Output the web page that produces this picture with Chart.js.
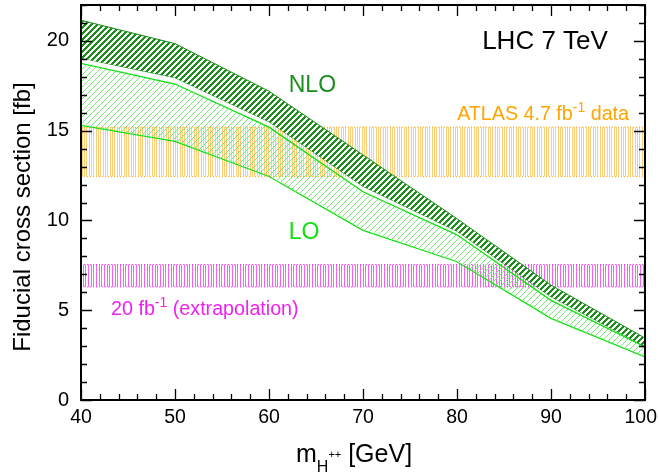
<!DOCTYPE html>
<html>
<head>
<meta charset="utf-8">
<title>Fiducial cross section</title>
<script src="https://cdn.jsdelivr.net/npm/chart.js@4.4.0/dist/chart.umd.min.js"></script>
<style>
  html, body { margin: 0; padding: 0; background: #fff; }
  #wrap { width: 659px; height: 475px; }
</style>
</head>
<body>
<div id="wrap"><canvas id="xsecChart" width="659" height="475"></canvas></div>
<script>
// Data (cross section in fb vs mass in GeV)
const masses = [40, 50, 60, 70, 80, 90, 100];
const nloUpper = [21.15, 19.85, 17.2, 13.65, 10.1, 6.4, 3.45];
const nloLower = [19.05, 17.95, 15.5, 11.9, 9.4, 5.75, 3.0];
const loUpper = [18.75, 17.6, 15.2, 11.6, 9.2, 5.55, 2.95];
const loLower = [15.3, 14.4, 12.45, 9.45, 7.7, 4.55, 2.4];
const atlasBand = [12.45, 15.2];   // lower, upper
const extrapBand = [6.3, 7.55];    // lower, upper
const massRange = [40, 100];
const xTicks = [40, 50, 60, 70, 80, 90, 100];
const yTicks = [0, 5, 10, 15, 20];
const yMax = 22;

const FONT = '"Liberation Sans", Arial, Helvetica, sans-serif';
const canvas = document.getElementById('xsecChart');
const ctx = canvas.getContext('2d');

// Crisp pixel hatch: "/" stripes, `on` dark pixels out of `size` per row
function diagPattern(size, on, color, bg) {
    const c = document.createElement('canvas');
    c.width = size; c.height = size;
    const g = c.getContext('2d');
    if (bg) { g.fillStyle = bg; g.fillRect(0, 0, size, size); }
    g.fillStyle = color;
    for (let py = 0; py < size; py++) {
        for (let px = 0; px < size; px++) {
            if ((px + py) % size < on) g.fillRect(px, py, 1, 1);
        }
    }
    return ctx.createPattern(c, 'repeat');
}

function vlinePattern(w, xs, color) {
    const c = document.createElement('canvas');
    c.width = w; c.height = 4;
    const g = c.getContext('2d');
    g.fillStyle = color;
    xs.forEach(px => g.fillRect(px, 0, 1, 4));
    return ctx.createPattern(c, 'repeat');
}

const nloHatch = diagPattern(6, 3, '#1b8e1b', '#ffffff');
const loHatch = diagPattern(6, 1, '#78e878', null);
const atlasHatch = vlinePattern(7, [0, 2, 5], 'rgba(255,175,40,0.62)');
const extrapHatch = vlinePattern(8, [0, 3, 5], 'rgba(255,50,255,0.8)');

const toPoints = ys => masses.map((m, i) => ({ x: m, y: ys[i] }));
const flat = v => massRange.map(m => ({ x: m, y: v }));

const lineBase = { pointRadius: 0, tension: 0, showLine: true };

const datasets = [
    // ATLAS 4.7 fb-1 band
    { ...lineBase, label: 'atlasHi', data: flat(atlasBand[1]), fill: '+1', backgroundColor: atlasHatch,
      borderColor: 'rgba(255,165,0,0.9)', borderWidth: 1, borderDash: [1, 2], order: 5 },
    { ...lineBase, label: 'atlasLo', data: flat(atlasBand[0]), fill: false,
      borderColor: 'rgba(255,165,0,0.9)', borderWidth: 1, borderDash: [1, 2], order: 5 },
    // 20 fb-1 extrapolation band
    { ...lineBase, label: 'extrapHi', data: flat(extrapBand[1]), fill: '+1', backgroundColor: extrapHatch,
      borderColor: '#ff33ff', borderWidth: 1, borderDash: [1, 2], order: 4 },
    { ...lineBase, label: 'extrapLo', data: flat(extrapBand[0]), fill: false,
      borderColor: '#ff33ff', borderWidth: 1, borderDash: [1, 2], order: 4 },
    // LO band
    { ...lineBase, label: 'loUp', data: toPoints(loUpper), fill: '+1', backgroundColor: loHatch,
      borderColor: '#11e011', borderWidth: 1.3, order: 3 },
    { ...lineBase, label: 'loLo', data: toPoints(loLower), fill: false,
      borderColor: '#11e011', borderWidth: 1.3, order: 3 },
    // NLO band
    { ...lineBase, label: 'nloUp', data: toPoints(nloUpper), fill: '+1', backgroundColor: nloHatch,
      borderColor: '#1b8e1b', borderWidth: 1, order: 1 },
    { ...lineBase, label: 'nloLo', data: toPoints(nloLower), fill: false,
      borderColor: '#1b8e1b', borderWidth: 1, order: 1 }
];

function richText(parts, x, y, align, color) {
    let w = 0;
    parts.forEach(p => { ctx.font = p[1] + 'px ' + FONT; w += ctx.measureText(p[0]).width; });
    let cx = align === 'right' ? x - w : align === 'center' ? x - w / 2 : x;
    ctx.fillStyle = color;
    ctx.textAlign = 'left';
    ctx.textBaseline = 'alphabetic';
    parts.forEach(p => {
        ctx.font = p[1] + 'px ' + FONT;
        ctx.fillText(p[0], cx, y + p[2]);
        cx += ctx.measureText(p[0]).width;
    });
}

// Frame, inward ticks on all sides, labels
const decorations = {
    id: 'decorations',
    afterDraw(chart) {
        const { chartArea: a, scales: { x, y } } = chart;
        ctx.save();
        ctx.strokeStyle = '#000';
        ctx.lineWidth = 1.3;
        ctx.beginPath();
        for (let v = massRange[0]; v <= massRange[1]; v += 2) {
            const px = Math.round(x.getPixelForValue(v)) + 0.5;
            const len = v % 10 === 0 ? 11 : 6;
            ctx.moveTo(px, a.bottom); ctx.lineTo(px, a.bottom - len);
            ctx.moveTo(px, a.top); ctx.lineTo(px, a.top + len);
        }
        for (let v = 0; v <= yMax; v += 1) {
            const py = Math.round(y.getPixelForValue(v)) + 0.5;
            const len = v % 5 === 0 ? 11 : 6;
            ctx.moveTo(a.left, py); ctx.lineTo(a.left + len, py);
            ctx.moveTo(a.right, py); ctx.lineTo(a.right - len, py);
        }
        ctx.stroke();
        ctx.lineWidth = 2;
        ctx.strokeRect(a.left, a.top, a.right - a.left, a.bottom - a.top);

        // x tick labels (kept inside the canvas at the right edge)
        ctx.font = '19.5px ' + FONT;
        ctx.fillStyle = '#000';
        ctx.textAlign = 'center';
        ctx.textBaseline = 'top';
        xTicks.forEach(v => {
            const label = String(v);
            const half = ctx.measureText(label).width / 2;
            const px = Math.min(x.getPixelForValue(v), chart.width - 2 - half);
            ctx.fillText(label, px, a.bottom + 8);
        });

        // annotations
        richText([['LHC 7 TeV', 26, 0]], x.getPixelForValue(96.05), y.getPixelForValue(19.54), 'right', '#000');
        richText([['NLO', 23, 0]], x.getPixelForValue(62.1), y.getPixelForValue(17.15), 'left', '#1b8e1b');
        richText([['LO', 23, 0]], x.getPixelForValue(62.1), y.getPixelForValue(8.96), 'left', '#11e011');
        richText([['ATLAS 4.7 fb', 19.7, 0], ['-1', 14, -8], [' data', 19.7, 0]],
            x.getPixelForValue(98.3), y.getPixelForValue(15.6), 'right', '#ffa500');
        richText([['20 fb', 19.7, 0], ['-1', 14, -8], [' (extrapolation)', 19.7, 0]],
            x.getPixelForValue(43.2), y.getPixelForValue(4.73), 'left', '#f020f0');

        // axis titles
        richText([['m', 25, 0], ['H', 16, 10], ['++', 11, -4], [' [GeV]', 25, 0]],
            296, 462, 'left', '#000');
        ctx.save();
        ctx.translate(23, 217);
        ctx.rotate(-Math.PI / 2);
        ctx.font = '24px ' + FONT;
        ctx.fillStyle = '#000';
        ctx.textAlign = 'center';
        ctx.textBaseline = 'middle';
        ctx.fillText('Fiducial cross section [fb]', 0, 0);
        ctx.restore();
        ctx.restore();
    }
};

const xsecChart = new Chart(ctx, {
    type: 'line',
    data: { datasets: datasets },
    options: {
        responsive: false,
        animation: false,
        devicePixelRatio: 1,
        layout: { padding: { top: 5, right: 14, left: 0, bottom: 0 } },
        plugins: { legend: { display: false }, tooltip: { enabled: false } },
        scales: {
            x: {
                type: 'linear',
                min: massRange[0],
                max: massRange[1],
                grid: { display: false, drawTicks: false },
                border: { display: false },
                afterBuildTicks: s => { s.ticks = xTicks.map(v => ({ value: v })); },
                afterFit: s => { s.height = 75; s.paddingLeft = 0; s.paddingRight = 0; },
                ticks: { display: false }
            },
            y: {
                type: 'linear',
                min: 0,
                max: yMax,
                grid: { display: false, drawTicks: false },
                border: { display: false },
                afterBuildTicks: s => { s.ticks = yTicks.map(v => ({ value: v })); },
                afterFit: s => { s.width = 81; s.paddingTop = 0; s.paddingBottom = 0; },
                ticks: { color: '#000', padding: 12, font: { size: 20, family: FONT } }
            }
        }
    },
    plugins: [decorations]
});
</script>
</body>
</html>
